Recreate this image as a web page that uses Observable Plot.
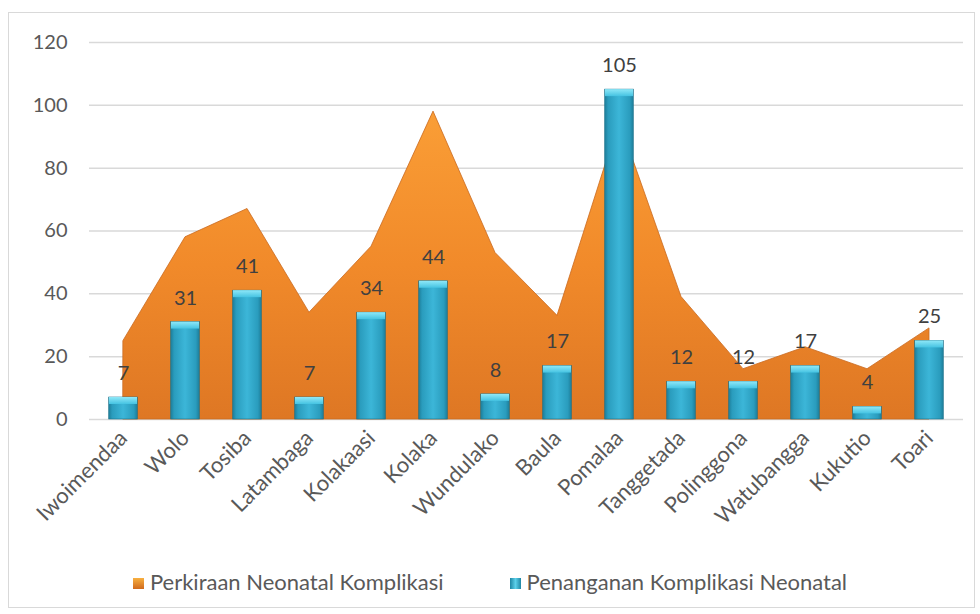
<!DOCTYPE html>
<html><head><meta charset="utf-8">
<script src="https://cdn.jsdelivr.net/npm/d3@7"></script>
<script src="https://cdn.jsdelivr.net/npm/@observablehq/plot@0.6"></script>
<style>
body{margin:0;background:#fff;font-family:Lato,"Open Sans",sans-serif;}
#frame{position:absolute;left:8px;top:12px;width:965px;height:594px;border:1px solid #d9d9d9;}
#chart{position:absolute;left:0;top:0;}
#legend{position:absolute;left:0;top:568px;width:980px;display:flex;justify-content:center;gap:66px;font-size:22px;color:#595959;font-family:Lato,"Open Sans",sans-serif;}
#legend span.sw{display:inline-block;width:11px;height:11px;margin-right:6px;vertical-align:1px;}
</style></head>
<body>
<div id="frame"></div>
<div id="chart"></div>
<div id="legend">
 <div><span class="sw" style="background:linear-gradient(#f8b040,#d06a1c)"></span>Perkiraan Neonatal Komplikasi</div>
 <div><span class="sw" style="background:linear-gradient(90deg,#1f86a4,#5cd0ea,#1f86a4)"></span>Penanganan Komplikasi Neonatal</div>
</div>
<script>
const categories = ["Iwoimendaa","Wolo","Tosiba","Latambaga","Kolakaasi","Kolaka","Wundulako","Baula","Pomalaa","Tanggetada","Polinggona","Watubangga","Kukutio","Toari"];
const perkiraan = [25,58,67,34,55,98,53,33,95,39,16,23,16,29];
const penanganan = [7,31,41,7,34,44,8,17,105,12,12,17,4,25];
const yTicks = [0,20,40,60,80,100,120];

const data = categories.map((c,i)=>({name:c, est:perkiraan[i], val:penanganan[i]}));

const chart = Plot.plot({
  width: 980,
  height: 560,
  marginLeft: 89,
  marginRight: 17,
  marginTop: 42,
  marginBottom: 141,
  style: {fontFamily: "Lato, 'Open Sans', sans-serif", color: "#595959", background: "transparent"},
  x: {domain: categories, padding: 0, label: null},
  y: {domain: [0,120], label: null},
  marks: [
    Plot.gridY(yTicks, {stroke: "#d9d9d9", strokeOpacity: 1, strokeWidth: 1.5}),
    Plot.areaY(data, {x: "name", y: "est", fill: "url(#gOrange)", stroke: "#c9691f", strokeWidth: 0.8}),
    Plot.barY(data, {x: "name", y: "val", fill: "url(#gCyan)", stroke: "#1a6f88", strokeWidth: 0.6, insetLeft: 16.7, insetRight: 16.7}),
    Plot.barY(data, {x: "name", y1: "val", y2: "val", fill: "url(#gCap)", insetLeft: 17, insetRight: 17, insetBottom: -7}),
    Plot.text(data, {x: "name", y: "val", text: d => String(d.val), dy: -24, fontSize: 20, fill: "#404040"}),
    Plot.axisY(yTicks, {tickSize: 0, tickPadding: 22, fontSize: 20, fill: "#595959", label: null}),
    Plot.axisX({tickSize: 0, tickRotate: -45, tickPadding: 15, fontSize: 22, fill: "#595959", label: null})
  ]
});

const svg = d3.select(chart);
const defs = svg.insert("defs", ":first-child");
const go = defs.append("linearGradient").attr("id","gOrange").attr("x1",0).attr("y1",0).attr("x2",0).attr("y2",1);
go.append("stop").attr("offset","0%").attr("stop-color","#fa9e36");
go.append("stop").attr("offset","50%").attr("stop-color","#f18a2a");
go.append("stop").attr("offset","100%").attr("stop-color","#de7724");
const gc = defs.append("linearGradient").attr("id","gCyan").attr("x1",0).attr("y1",0).attr("x2",1).attr("y2",0);
gc.append("stop").attr("offset","0%").attr("stop-color","#1d7d99");
gc.append("stop").attr("offset","12%").attr("stop-color","#2a9cbd");
gc.append("stop").attr("offset","50%").attr("stop-color","#3cb6d8");
gc.append("stop").attr("offset","88%").attr("stop-color","#2a9cbd");
gc.append("stop").attr("offset","100%").attr("stop-color","#1d7d99");
const gp = defs.append("linearGradient").attr("id","gCap").attr("x1",0).attr("y1",0).attr("x2",0).attr("y2",1);
gp.append("stop").attr("offset","0%").attr("stop-color","#8fe8f8");
gp.append("stop").attr("offset","100%").attr("stop-color","#45c3e2");
document.getElementById("chart").appendChild(chart);
</script>
</body></html>
